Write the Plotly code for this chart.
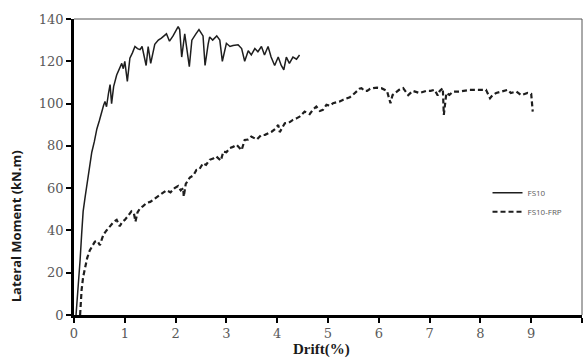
import plotly.graph_objects as go

# FS10 (solid)
fs10_drift = [0.04, 0.08, 0.12, 0.15, 0.18, 0.22, 0.25, 0.30, 0.35, 0.40,
              0.45, 0.50, 0.54, 0.58, 0.61, 0.64, 0.68, 0.71, 0.74, 0.78,
              0.84, 0.89, 0.94, 0.97, 1.00, 1.05, 1.10, 1.15, 1.20, 1.25,
              1.30, 1.34, 1.42, 1.46, 1.51, 1.59, 1.66, 1.72, 1.79, 1.82,
              1.88, 1.95, 2.05, 2.08, 2.12, 2.18, 2.27, 2.32, 2.40, 2.46,
              2.54, 2.58, 2.64, 2.67, 2.73, 2.81, 2.87, 2.92, 3.00, 3.07,
              3.13, 3.23, 3.30, 3.36, 3.43, 3.49, 3.56, 3.62, 3.69, 3.75,
              3.82, 3.88, 3.95, 4.02, 4.08, 4.13, 4.18, 4.24, 4.31, 4.38,
              4.44]
fs10_moment = [0, 12, 26, 38, 49, 56, 61, 69, 77, 82,
               88, 92, 96, 99, 101, 98.5, 105, 109, 100, 108,
               113.5, 116, 119, 116.5, 120, 110.5, 121.5, 124, 127, 126,
               125.5, 127, 118, 127, 119, 128, 130, 131, 132.5, 133,
               129.5, 132, 136.4, 135, 122, 133, 117.5, 130, 133, 135,
               132, 118, 128, 131.5, 130, 132, 130, 120, 128.5, 127,
               127.5, 127.8, 126, 120, 125, 123, 126, 124.5, 127, 123,
               127, 122, 118, 122, 118, 116, 122, 119, 122, 121,
               123]

# FS10-FRP (dashed)
frp_drift = [0.12, 0.13, 0.15, 0.18, 0.22, 0.26, 0.31, 0.36, 0.41, 0.46,
             0.51, 0.55, 0.58, 0.64, 0.71, 0.78, 0.84, 0.90, 0.95, 1.00,
             1.07, 1.13, 1.18, 1.21, 1.25, 1.30, 1.36, 1.43, 1.50, 1.56,
             1.63, 1.69, 1.76, 1.82, 1.90, 1.98, 2.05, 2.10, 2.15, 2.16,
             2.20, 2.28, 2.35, 2.41, 2.47, 2.54, 2.60, 2.67, 2.74, 2.80,
             2.89, 2.94, 3.00, 3.07, 3.13, 3.20, 3.30, 3.36, 3.43, 3.49,
             3.60, 3.68, 3.76, 3.83, 3.89, 3.96, 4.02, 4.05, 4.10, 4.15,
             4.23, 4.31, 4.38, 4.44, 4.54, 4.64, 4.70, 4.77, 4.84, 4.90,
             4.97, 5.04, 5.10, 5.17, 5.23, 5.30, 5.36, 5.43, 5.49, 5.56,
             5.62, 5.66, 5.72, 5.77, 5.83, 5.89, 5.97, 6.05, 6.16, 6.23,
             6.27, 6.32, 6.40, 6.48, 6.58, 6.67, 6.74, 6.80, 6.93, 7.02,
             7.10, 7.16, 7.20, 7.26, 7.28, 7.30, 7.33, 7.39, 7.46, 7.59,
             7.70, 7.79, 7.98, 8.11, 8.19, 8.24, 8.31, 8.44, 8.54, 8.60,
             8.71, 8.80, 8.93, 9.00, 9.02, 9.03]
frp_moment = [0, 6, 12, 18, 23, 27, 30.5, 33, 34.7, 35,
              33, 36, 38, 40, 42, 44, 45, 42, 44, 45,
              47, 49, 48, 44.2, 48.5, 50.5, 51.5, 53, 53.5, 54.5,
              56, 57, 58, 59, 58, 60, 61, 59, 60, 56,
              62, 65, 66, 68.6, 69, 71.8, 71, 73.4, 74, 75,
              73, 77.3, 77, 79, 79.5, 80.5, 78, 82.8, 83, 84.4,
              83, 85, 85.2, 86, 86.7, 88, 89.9, 86.5, 89, 90.7,
              91, 92.3, 93, 93.8, 96.2, 95, 97, 98.6, 96.5, 97,
              99.4, 99, 100.2, 100.5, 101, 101.8, 102.5, 103, 104.1, 105.5,
              107, 107.3, 106, 106, 107, 107.3, 107.5, 107.3, 106, 100.2,
              104, 105, 106.5, 107.3, 104, 106, 105.5, 105, 106, 106,
              106.5, 103.8, 106, 107.3, 94.6, 100, 105, 104.1, 105.6, 105.7,
              106, 106.5, 106.5, 106.5, 102.5, 104, 105, 105.7, 106.5, 105,
              105.7, 104, 105, 104.6, 100, 96.2]

x_ticks = [0, 1, 2, 3, 4, 5, 6, 7, 8, 9, 10]
y_ticks = [0, 20, 40, 60, 80, 100, 120, 140]

fig = go.Figure()
fig.add_trace(go.Scatter(x=fs10_drift, y=fs10_moment, mode="lines", name="FS10",
                         line=dict(color="#1e1e1e", width=1.5)))
fig.add_trace(go.Scatter(x=frp_drift, y=frp_moment, mode="lines", name="FS10-FRP",
                         line=dict(color="#1e1e1e", width=2.2, dash="5px,3px")))

tickfont = dict(family="DejaVu Serif", size=13, color="#595959")
fig.update_layout(
    width=587, height=360,
    margin=dict(l=74, r=5, t=19, b=45),
    paper_bgcolor="white", plot_bgcolor="white",
    showlegend=True,
    legend=dict(x=0.814, y=0.462, xanchor="left", yanchor="top",
                font=dict(family="Open Sans", size=8, color="#595959"),
                bgcolor="rgba(0,0,0,0)", tracegroupgap=0),
    xaxis=dict(range=[0, 10], tickvals=x_ticks, showgrid=False, zeroline=False,
               showline=True, linecolor="black", linewidth=2.5,
               ticks="outside", ticklen=5, tickwidth=2, tickcolor="black",
               tickfont=tickfont),
    yaxis=dict(range=[0, 140], tickvals=y_ticks, showgrid=False, zeroline=False,
               showline=True, linecolor="black", linewidth=2.5,
               ticks="outside", ticklen=5, tickwidth=2, tickcolor="black",
               tickfont=tickfont),
    shapes=[
        dict(type="line", xref="paper", yref="paper", x0=0, x1=1, y0=1, y1=1,
             line=dict(color="#555555", width=1)),
        dict(type="line", xref="paper", yref="paper", x0=1, x1=1, y0=0, y1=1,
             line=dict(color="#555555", width=1)),
    ],
    annotations=[
        dict(text="<b>Lateral Moment (kN.m)</b>", xref="paper", yref="paper",
             x=-0.114, y=0.30, xanchor="center", yanchor="middle",
             textangle=-90, showarrow=False,
             font=dict(family="Open Sans", size=13, color="#1a1a1a")),
        dict(text="<b>Drift(%)</b>", xref="paper", yref="paper",
             x=0.488, y=-0.117, xanchor="center", yanchor="middle",
             showarrow=False,
             font=dict(family="Liberation Serif", size=15, color="#1a1a1a")),
    ],
)

fig.write_html("out.html", config={"displayModeBar": False},
               post_script="document.body.style.margin='0';document.body.style.overflow='hidden';")
